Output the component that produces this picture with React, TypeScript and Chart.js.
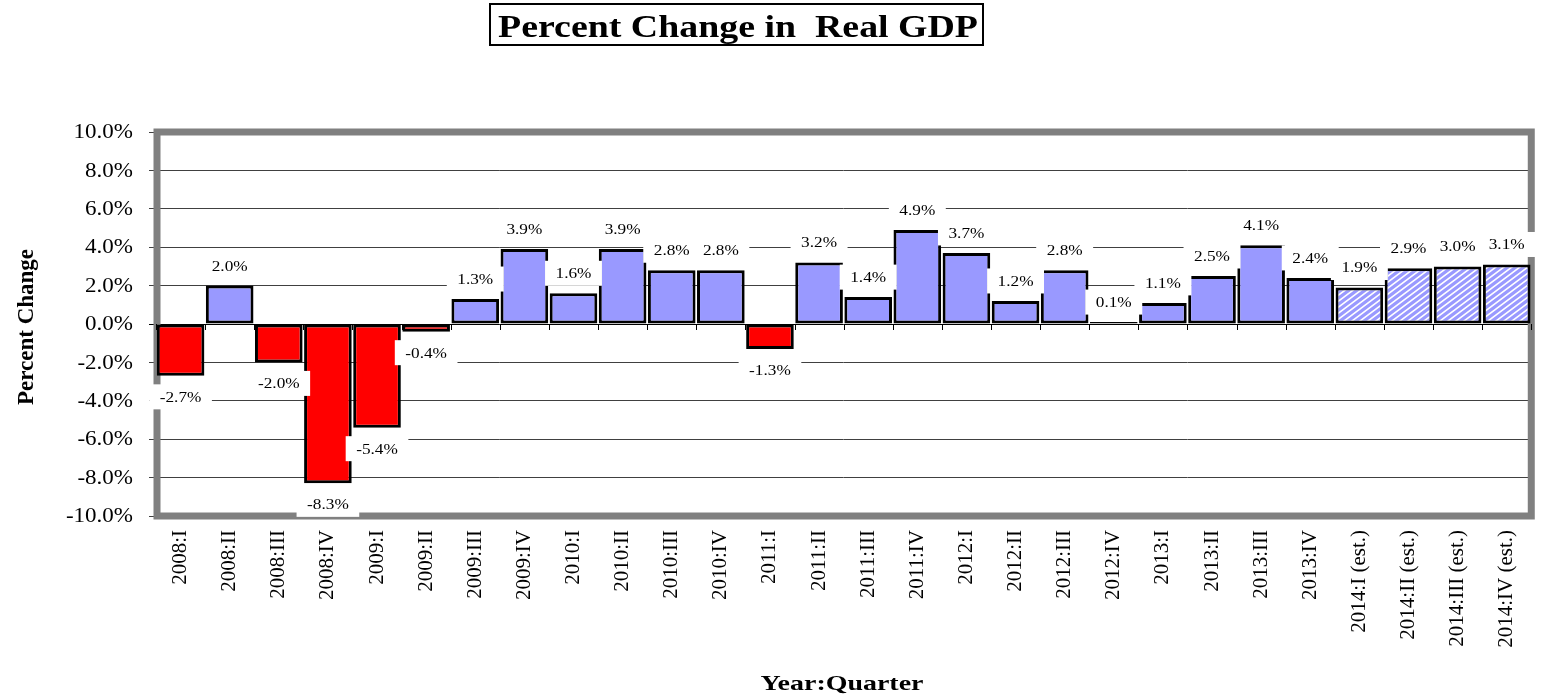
import React, { useEffect, useRef } from 'react';
import { Chart, registerables } from 'chart.js';

Chart.register(...registerables);

const quarters = [
  '2008:I', '2008:II', '2008:III', '2008:IV',
  '2009:I', '2009:II', '2009:III', '2009:IV',
  '2010:I', '2010:II', '2010:III', '2010:IV',
  '2011:I', '2011:II', '2011:III', '2011:IV',
  '2012:I', '2012:II', '2012:III', '2012:IV',
  '2013:I', '2013:II', '2013:III', '2013:IV',
  '2014:I (est.)', '2014:II (est.)', '2014:III (est.)', '2014:IV (est.)',
];

const gdpChange = [
  -2.7, 2.0, -2.0, -8.3,
  -5.4, -0.4, 1.3, 3.9,
  1.6, 3.9, 2.8, 2.8,
  -1.3, 3.2, 1.4, 4.9,
  3.7, 1.2, 2.8, 0.1,
  1.1, 2.5, 4.1, 2.4,
  1.9, 2.9, 3.0, 3.1,
];

const isEstimate = [
  false, false, false, false,
  false, false, false, false,
  false, false, false, false,
  false, false, false, false,
  false, false, false, false,
  false, false, false, false,
  true, true, true, true,
];

const yTickValues = [-10, -8, -6, -4, -2, 0, 2, 4, 6, 8, 10];

const chartTitle = 'Percent Change in  Real GDP';
const xAxisTitle = 'Year:Quarter';
const yAxisTitle = 'Percent Change';

const SERIF = '"Liberation Serif", "Times New Roman", Times, serif';

function drawText(
  ctx: CanvasRenderingContext2D,
  text: string,
  x: number,
  y: number,
  font: string,
  sx: number,
  align: CanvasTextAlign,
  baseline: CanvasTextBaseline = 'middle',
  rot = 0,
) {
  ctx.save();
  ctx.font = font;
  ctx.translate(x, y);
  if (rot) ctx.rotate(rot);
  ctx.scale(sx, 1);
  ctx.textAlign = align;
  ctx.textBaseline = baseline;
  ctx.fillStyle = '#000';
  ctx.fillText(text, 0, 0);
  ctx.restore();
}

const decorPlugin = {
  id: 'decor',
  beforeDatasetsDraw(chart: any) {
    const ctx = chart.ctx as CanvasRenderingContext2D;
    const { left, right, top, bottom } = chart.chartArea;
    ctx.save();
    ctx.strokeStyle = '#808080';
    ctx.lineWidth = 7;
    ctx.strokeRect(left + 1, top, right - left - 1, bottom - top);
    ctx.restore();
  },
  afterDatasetsDraw(chart: any) {
    const ctx = chart.ctx as CanvasRenderingContext2D;
    const xs = chart.scales.x;
    const ys = chart.scales.y;
    const y0 = ys.getPixelForValue(0);

    // category tick marks on the zero axis
    ctx.save();
    ctx.strokeStyle = '#000';
    ctx.lineWidth = 1;
    const n = quarters.length;
    const step = (xs.right - xs.left) / n;
    ctx.beginPath();
    for (let i = 0; i <= n; i++) {
      const px = Math.round(xs.left + i * step) + 0.5;
      ctx.moveTo(px, y0);
      ctx.lineTo(px, y0 + 6);
    }
    ctx.stroke();
    ctx.restore();

    // data labels with white boxes
    const meta = chart.getDatasetMeta(0);
    const labelFont = `15px ${SERIF}`;
    const sx = 1.15;
    meta.data.forEach((bar: any, i: number) => {
      const v = gdpChange[i];
      const txt = v.toFixed(1) + '%';
      ctx.save();
      ctx.font = labelFont;
      const w = ctx.measureText(txt).width * sx;
      ctx.restore();
      const cy = v >= 0 ? bar.y - 20 : bar.y + 21;
      const bw = w + 21;
      const bh = 25;
      ctx.save();
      ctx.fillStyle = '#fff';
      ctx.fillRect(bar.x - bw / 2, cy - bh / 2, bw, bh);
      ctx.restore();
      drawText(ctx, txt, bar.x, cy + 1, labelFont, sx, 'center');
    });

    // y tick labels
    yTickValues.forEach((t) => {
      const py = ys.getPixelForValue(t);
      drawText(ctx, t.toFixed(1) + '%', 133, py + 1, `20px ${SERIF}`, 1.15, 'right');
    });
  },
  afterDraw(chart: any) {
    const ctx = chart.ctx as CanvasRenderingContext2D;
    // title box
    ctx.save();
    ctx.strokeStyle = '#000';
    ctx.lineWidth = 2;
    ctx.strokeRect(490, 4, 493, 41);
    const tFont = `bold 31px ${SERIF}`;
    ctx.font = tFont;
    const tw = ctx.measureText(chartTitle).width;
    ctx.restore();
    drawText(ctx, chartTitle, 738, 37, tFont, 480 / tw, 'center', 'alphabetic');

    // x axis title
    const xFont = `bold 22px ${SERIF}`;
    ctx.save();
    ctx.font = xFont;
    const xw = ctx.measureText(xAxisTitle).width;
    ctx.restore();
    drawText(ctx, xAxisTitle, 842, 690, xFont, 163 / xw, 'center', 'alphabetic');

    // y axis title
    drawText(ctx, yAxisTitle, 33, 327, `bold 23px ${SERIF}`, 1, 'center', 'alphabetic', -Math.PI / 2);
  },
};

export default function App() {
  const ref = useRef<HTMLCanvasElement | null>(null);

  useEffect(() => {
    document.body.style.margin = '0';
    const canvas = ref.current;
    if (!canvas) return;
    const ctx = canvas.getContext('2d')!;

    // diagonal hatch tile for estimated quarters
    const TW = 8;
    const TH = 6;
    const tile = document.createElement('canvas');
    tile.width = TW;
    tile.height = TH;
    const tc = tile.getContext('2d')!;
    tc.fillStyle = '#ffffff';
    tc.fillRect(0, 0, TW, TH);
    tc.strokeStyle = '#9999FF';
    tc.lineWidth = 3.2;
    tc.beginPath();
    for (let k = -1; k <= 1; k++) {
      const yAt = (x: number) => TH * k + TH - (TH / TW) * x;
      tc.moveTo(-3, yAt(-3));
      tc.lineTo(TW + 3, yAt(TW + 3));
    }
    tc.stroke();
    const hatch = ctx.createPattern(tile, 'repeat')!;

    const colors = gdpChange.map((v, i) =>
      isEstimate[i] ? hatch : v < 0 ? '#FF0000' : '#9999FF',
    );

    const chart = new Chart(ctx, {
      type: 'bar',
      data: {
        labels: quarters,
        datasets: [
          {
            data: gdpChange,
            backgroundColor: colors as any,
            borderColor: '#000',
            borderWidth: 3,
            borderSkipped: false,
            categoryPercentage: 1,
            barPercentage: 0.97,
          },
        ],
      },
      options: {
        responsive: false,
        animation: false,
        layout: { padding: { top: 132, right: 5, left: 0, bottom: 0 } },
        plugins: {
          legend: { display: false },
          tooltip: { enabled: false },
          title: { display: false },
        },
        scales: {
          x: {
            grid: { display: false, drawTicks: false },
            border: { display: false },
            ticks: {
              autoSkip: false,
              minRotation: 90,
              maxRotation: 90,
              padding: 14,
              color: '#000',
              font: { family: SERIF, size: 21 },
            },
            afterFit: (s: any) => {
              s.height = 180;
            },
          },
          y: {
            min: -10,
            max: 10,
            ticks: { stepSize: 2, display: false },
            grid: {
              color: (c: any) => (c.tick && c.tick.value === 0 ? '#000' : '#404040'),
              lineWidth: 1,
              tickLength: 7,
              drawTicks: true,
            },
            border: { display: false },
            afterFit: (s: any) => {
              s.width = 156;
            },
          },
        },
      },
      plugins: [decorPlugin],
    });

    return () => chart.destroy();
  }, []);

  return (
    <div style={{ width: 1546, height: 696 }}>
      <canvas ref={ref} width={1546} height={696} style={{ display: 'block' }} />
    </div>
  );
}
